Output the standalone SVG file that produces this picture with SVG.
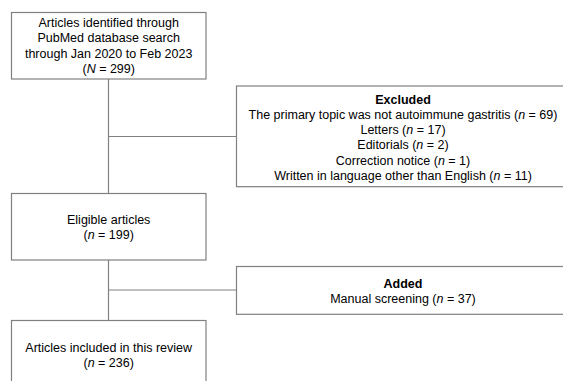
<svg xmlns="http://www.w3.org/2000/svg" width="563" height="381" viewBox="0 0 563 381">
<style>
.box{fill:#fff;stroke:#808080;stroke-width:1.2}
.ln{stroke:#808080;stroke-width:1.2;fill:none}
text{font-family:"Liberation Sans",Arial,sans-serif;font-size:12.5px;fill:#000;text-anchor:middle}
.b{font-weight:bold}
</style>
<rect width="563" height="381" fill="#fff"/>
<g id="connectors">
<line class="ln" x1="108.5" y1="79" x2="108.5" y2="193.5"/>
<line class="ln" x1="108.5" y1="136.5" x2="236.5" y2="136.5"/>
<line class="ln" x1="108.5" y1="260" x2="108.5" y2="320.5"/>
<line class="ln" x1="108.5" y1="290" x2="236.5" y2="290"/>
</g>
<g id="identified">
<rect class="box" x="11.5" y="12.5" width="194.5" height="66.5"/>
<text x="108.7" y="26.5">Articles identified through</text>
<text x="108.7" y="42">PubMed database search</text>
<text x="108.7" y="57.5">through Jan 2020 to Feb 2023</text>
<text x="108.7" y="73">(<tspan font-style="italic">N</tspan> = 299)</text>
</g>
<g id="excluded">
<rect class="box" x="236.5" y="86" width="334" height="100.7"/>
<text class="b" x="403" y="103.5">Excluded</text>
<text x="403" y="119">The primary topic was not autoimmune gastritis (<tspan font-style="italic">n</tspan> = 69)</text>
<text x="403" y="134.2">Letters (<tspan font-style="italic">n</tspan> = 17)</text>
<text x="403" y="149.4">Editorials (<tspan font-style="italic">n</tspan> = 2)</text>
<text x="403" y="164.6">Correction notice (<tspan font-style="italic">n</tspan> = 1)</text>
<text x="403" y="179.8">Written in language other than English (<tspan font-style="italic">n</tspan> = 11)</text>
</g>
<g id="eligible">
<rect class="box" x="11.5" y="193.5" width="194.5" height="66.5"/>
<text x="108.7" y="223.5">Eligible articles</text>
<text x="108.7" y="239">(<tspan font-style="italic">n</tspan> = 199)</text>
</g>
<g id="added">
<rect class="box" x="236.5" y="266.5" width="334" height="47.8"/>
<text class="b" x="403" y="287.5">Added</text>
<text x="403" y="303">Manual screening (<tspan font-style="italic">n</tspan> = 37)</text>
</g>
<g id="included">
<rect class="box" x="11.5" y="320.5" width="194.5" height="66"/>
<text x="108.7" y="351.5">Articles included in this review</text>
<text x="108.7" y="367">(<tspan font-style="italic">n</tspan> = 236)</text>
</g>
</svg>
